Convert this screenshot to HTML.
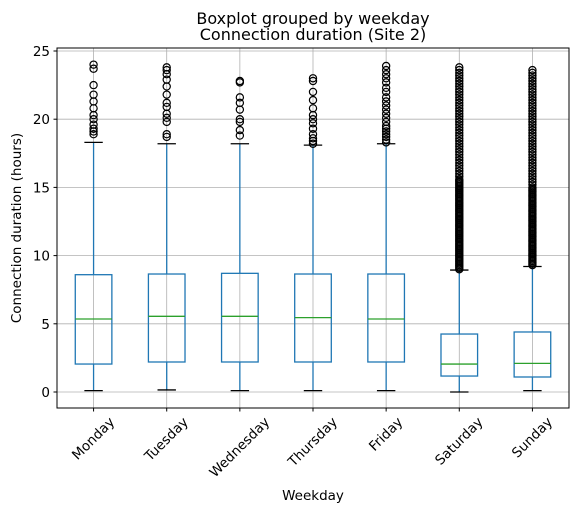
<!DOCTYPE html>
<html><head><meta charset="utf-8"><style>
body{margin:0;background:#fff;}
svg text{font-family:"DejaVu Sans","Liberation Sans",sans-serif;}
</style></head><body>
<svg id="chart" width="578" height="514" xmlns="http://www.w3.org/2000/svg">
<rect width="578" height="514" fill="#fff"/>
<text x="313" y="24" font-size="16" text-anchor="middle">Boxplot grouped by weekday</text>
<text x="313" y="40" font-size="16" text-anchor="middle">Connection duration (Site 2)</text>
<g id="grid"></g>
<g id="marks"></g>
<rect x="57" y="48" width="512" height="360" fill="none" stroke="#000" stroke-width="1"/>
<g id="axes"></g>
<text x="313" y="500" font-size="13.5" text-anchor="middle">Weekday</text>
<text transform="translate(21,228) rotate(-90)" font-size="13.5" text-anchor="middle">Connection duration (hours)</text>
</svg>
<script>
const categories=["Monday","Tuesday","Wednesday","Thursday","Friday","Saturday","Sunday"];
const whiskerLow=[0.1,0.15,0.1,0.1,0.1,0.0,0.1];
const q1=[2.05,2.2,2.2,2.2,2.2,1.17,1.1];
const medians=[5.35,5.55,5.55,5.45,5.35,2.05,2.1];
const q3=[8.6,8.65,8.7,8.65,8.65,4.25,4.4];
const whiskerHigh=[18.3,18.2,18.2,18.1,18.2,8.94,9.2];
const outMon=[18.9,19.1,19.3,19.6,20.0,20.3,20.8,21.3,21.8,22.5,23.7,24.0];
const outTue=[18.7,18.9,19.8,20.1,20.4,20.9,21.2,21.8,22.4,22.9,23.3,23.6,23.8];
const outWed=[18.8,19.2,19.8,20.0,20.7,21.2,21.6,22.7,22.8];
const outThu=[18.2,18.4,18.6,18.9,19.3,19.7,20.0,20.3,20.8,21.4,22.0,22.8,23.0];
const outFri=[18.3,18.5,18.7,18.9,19.1,19.3,19.5,19.8,20.1,20.4,20.7,21.0,21.3,21.6,22.0,22.3,22.7,23.0,23.3,23.6,23.9];
const outSat=[9.0,9.1,9.2,9.3,9.4,9.5,9.6,9.7,9.8,9.9,10.0,10.1,10.2,10.3,10.4,10.5,10.6,10.7,10.8,10.9,11.0,11.1,11.2,11.3,11.4,11.5,11.6,11.7,11.8,11.9,12.0,12.1,12.2,12.3,12.4,12.5,12.6,12.7,12.8,12.9,13.0,13.1,13.2,13.3,13.4,13.5,13.6,13.7,13.8,13.9,14.0,14.1,14.2,14.3,14.4,14.5,14.6,14.7,14.8,14.9,15.0,15.1,15.2,15.3,15.4,15.5,15.6,15.8,16.0,16.2,16.4,16.6,16.8,17.0,17.2,17.4,17.6,17.8,18.0,18.2,18.4,18.6,18.8,19.0,19.2,19.4,19.6,19.8,20.0,20.2,20.4,20.6,20.8,21.0,21.2,21.4,21.6,21.8,22.0,22.2,22.4,22.6,22.8,23.0,23.2,23.4,23.6,23.8];
const outSun=[9.3,9.4,9.5,9.6,9.7,9.8,9.9,10.0,10.1,10.2,10.3,10.4,10.5,10.6,10.7,10.8,10.9,11.0,11.1,11.2,11.3,11.4,11.5,11.6,11.7,11.8,11.9,12.0,12.1,12.2,12.3,12.4,12.5,12.6,12.7,12.8,12.9,13.0,13.1,13.2,13.3,13.4,13.5,13.6,13.7,13.8,13.9,14.0,14.1,14.2,14.3,14.4,14.5,14.6,14.7,14.8,14.9,15.0,15.2,15.4,15.6,15.8,16.0,16.2,16.4,16.6,16.8,17.0,17.2,17.4,17.6,17.8,18.0,18.2,18.4,18.6,18.8,19.0,19.2,19.4,19.6,19.8,20.0,20.2,20.4,20.6,20.8,21.0,21.2,21.4,21.6,21.8,22.0,22.2,22.4,22.6,22.8,23.0,23.2,23.4,23.6];
const outliers=[outMon,outTue,outWed,outThu,outFri,outSat,outSun];
const yTicks=[0,5,10,15,20,25];
const NS="http://www.w3.org/2000/svg";
const x0=57,x1=569,yTop=48,yBot=408;
function y(v){return 392-v*13.64;}
function x(i){return x0+(i+0.5)*(x1-x0)/categories.length;}
function mk(tag,attrs,parent){const e=document.createElementNS(NS,tag);for(const k in attrs)e.setAttribute(k,attrs[k]);parent.appendChild(e);return e;}
const grid=document.getElementById('grid'),marks=document.getElementById('marks'),axes=document.getElementById('axes');
yTicks.forEach(t=>{
  const g=mk('line',{x1:x0,x2:x1,y1:y(t),y2:y(t),stroke:'#b0b0b0','stroke-width':0.8},grid);
  
  
  mk('line',{x1:x0-3.5,x2:x0,y1:y(t),y2:y(t),stroke:'#000'},axes);
  const tx=mk('text',{x:x0-7,y:y(t)+5,'font-size':13.5,'text-anchor':'end'},axes);
  tx.textContent=t;
  
  
});
categories.forEach((c,i)=>{
  const cx=x(i);
  const g=mk('line',{x1:cx,x2:cx,y1:yTop,y2:yBot,stroke:'#b0b0b0','stroke-width':0.8},grid);
  
  
  mk('line',{x1:cx,x2:cx,y1:yBot,y2:yBot+3.5,stroke:'#000'},axes);
  const tx=mk('text',{x:0,y:0,'font-size':13.5,'text-anchor':'middle','dominant-baseline':'central'},axes);
  tx.textContent=c;
  
  
  const L=tx.getComputedTextLength();
  const h=(L+14)*0.7071;
  tx.setAttribute('transform',`translate(${cx},${yBot+7+h/2}) rotate(-45)`);
  const grp=mk('g',{},marks);
  
  
  const hw=18.3,cap=9.2;
  mk('line',{x1:cx,x2:cx,y1:y(q3[i]),y2:y(whiskerHigh[i]),stroke:'#1f77b4','stroke-width':1.3},grp);
  mk('line',{x1:cx,x2:cx,y1:y(q1[i]),y2:y(whiskerLow[i]),stroke:'#1f77b4','stroke-width':1.3},grp);
  mk('line',{x1:cx-cap,x2:cx+cap,y1:y(whiskerHigh[i]),y2:y(whiskerHigh[i]),stroke:'#000','stroke-width':1.3},grp);
  mk('line',{x1:cx-cap,x2:cx+cap,y1:y(whiskerLow[i]),y2:y(whiskerLow[i]),stroke:'#000','stroke-width':1.3},grp);
  mk('rect',{x:cx-hw,y:y(q3[i]),width:2*hw,height:y(q1[i])-y(q3[i]),fill:'none',stroke:'#1f77b4','stroke-width':1.3},grp);
  mk('line',{x1:cx-hw,x2:cx+hw,y1:y(medians[i]),y2:y(medians[i]),stroke:'#2ca02c','stroke-width':1.3},grp);
  outliers[i].forEach(v=>{
    const o=mk('circle',{cx:cx,cy:y(v),r:3.6,fill:'none',stroke:'#000','stroke-width':1.2},grp);
    
    
  });
});
</script>
</body></html>
